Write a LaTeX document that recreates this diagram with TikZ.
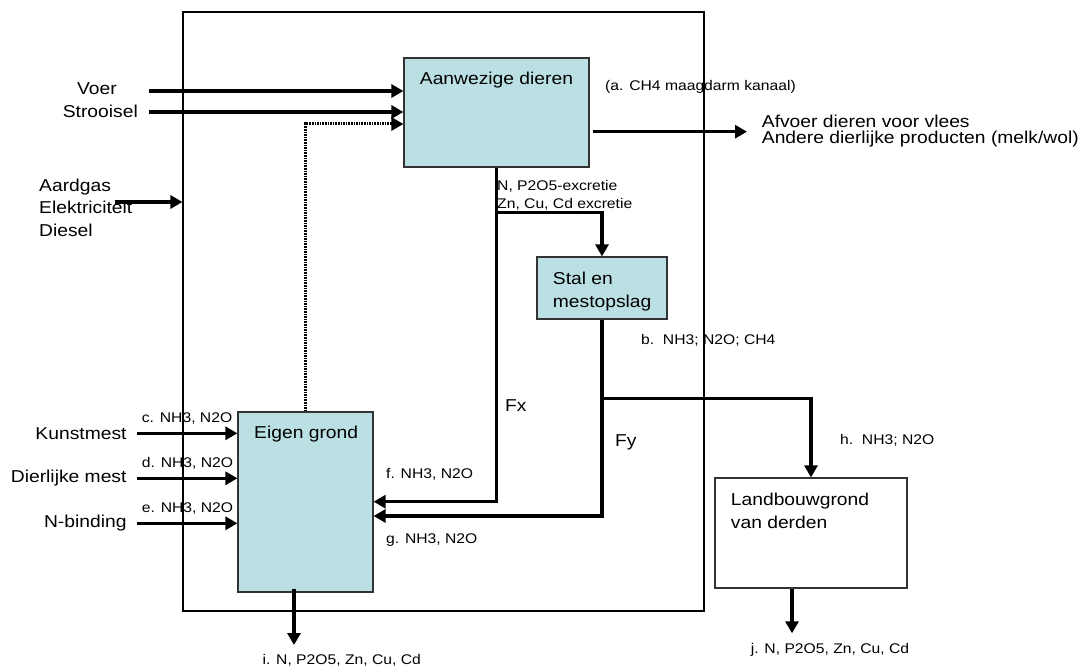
\documentclass[tikz,border=0pt]{standalone}
\usepackage{fontspec}
\setmainfont[FakeStretch=1.12]{Liberation Sans}
\usetikzlibrary{arrows.meta}
\definecolor{boxblue}{RGB}{187,224,227}
\newcommand{\bigtxt}{\fontsize{17.2}{22.5}\selectfont}
\newcommand{\smtxt}{\fontsize{14}{17.7}\selectfont}
\begin{document}
\begin{tikzpicture}[x=1pt, y=-1pt,
  box/.style={draw=black!80, line width=1.2pt, fill=boxblue, inner sep=0pt},
  thk/.style={line width=3.2pt},
  flow/.style={thk, -{Triangle[length=12pt,width=13pt]}},
  dotln/.style={line width=3pt, dash pattern=on 1.6pt off 1pt, -{Triangle[length=12pt,width=13pt]}},
  txt/.style={font=\bigtxt, inner sep=0pt},
  lbl/.style={font=\smtxt, inner sep=0pt}]
\useasboundingbox (0,0) rectangle (1084,668);
% system boundary and the four boxes
\node[draw, line width=1.1pt, minimum width=521, minimum height=599, inner sep=0pt] (sys) at (443.5,311.5) {};
\node[box, minimum width=185, minimum height=109] (dier) at (496.5,112.5) {};
\node[box, minimum width=130, minimum height=62] (stal) at (602,288) {};
\node[box, minimum width=135, minimum height=180] (eig) at (305.5,502) {};
\node[box, fill=white, minimum width=192, minimum height=110] (land) at (811,533) {};
\node[txt, anchor=base] (dier-t) at (496.5,85) {Aanwezige dieren};
\node[txt, anchor=base west] (stal-t1) at (552.7,284) {Stal en};
\node[txt, anchor=base west] (stal-t2) at (552.7,307.3) {mestopslag};
\node[txt, anchor=base west] (eig-t) at (254,438) {Eigen grond};
\node[txt, anchor=base west] (land-t1) at (730.7,505) {Landbouwgrond};
\node[txt, anchor=base west] (land-t2) at (730.7,528.3) {van derden};
% inputs to the animals
\node[txt, anchor=base] (voer) at (97,95) {Voer};
\node[txt, anchor=base east] (stro) at (138,117.3) {Strooisel};
\coordinate (voer-s) at (149,91);
\coordinate (stro-s) at (149,112);
\draw[flow] (voer-s) -- (dier.west |- voer-s);
\draw[flow] (stro-s) -- (dier.west |- stro-s);
\coordinate (retour) at ([yshift=-11.5pt]dier.west);
\draw[dotln] (eig.north) |- (retour);
% energy
\foreach \e [count=\k] in {Aardgas,Elektriciteit,Diesel}
    \node[txt, anchor=base west] (en\k) at (39,{191.7+22.3*(\k-1)}) {\e};
\coordinate (en-s) at (115,202);
\draw[flow] (en-s) -- (sys.west |- en-s);
% products
\coordinate (afv-s) at ([xshift=3pt,yshift=-19.2pt]dier.east);
\coordinate (afv-e) at (747,131.7);
\draw[flow] (afv-s) -- (afv-e);
\node[txt, anchor=base west] (afv1) at (761.7,127.3) {Afvoer dieren voor vlees};
\node[txt, anchor=base west] (afv2) at (761.7,144) {Andere dierlijke producten (melk/wol)};
\node[lbl, anchor=west] (a) at (605,87) {(a. CH4 maagdarm kanaal)};
% excretion
\coordinate (split1) at ([yshift=-44.7pt]dier.south);
\coordinate (split2) at ([yshift=-79pt]stal.south);
\draw[flow] (dier.south) |- ([yshift=0.3pt]eig.east);
\draw[flow] (split1) -| (stal.north);
\draw[flow] (stal.south) |- ([yshift=-14pt]eig.east);
\draw[flow] (split2) -| (land.north);
\node[lbl, anchor=base west] (exc1) at (497,190.7) {N, P2O5-excretie};
\node[lbl, anchor=base west] (exc2) at (497,208.3) {Zn, Cu, Cd excretie};
\node[lbl, anchor=west] (b) at (641,340) {b.\ \ NH3; N2O; CH4};
\node[lbl, anchor=west] (h) at (840,440) {h.\ \ NH3; N2O};
\node[txt, anchor=west] (fx) at (505,405.7) {Fx};
\node[txt, anchor=west] (fy) at (615,442.7) {Fy};
\node[lbl, anchor=west] (f) at (386,474) {f. NH3, N2O};
\node[lbl, anchor=west] (g) at (386,540) {g. NH3, N2O};
% inputs to own land
\def\inputs{{"Kunstmest","Dierlijke mest","N-binding"}}
\def\tags{{"c","d","e"}}
\foreach \i in {0,1,2} {
    \pgfmathsetmacro{\yy}{433.3+45*\i}
    \pgfmathsetmacro{\ty}{\yy-14.5}
    \pgfmathparse{\inputs[\i]}\let\inp\pgfmathresult
    \pgfmathparse{\tags[\i]}\let\tg\pgfmathresult
    \coordinate (in\i) at (137,\yy);
    \node[txt, anchor=east] (inp\i) at (126.7,\yy) {\inp};
    \node[lbl, anchor=west] (tag\i) at (141.7,\ty) {\tg. NH3, N2O};
    \draw[flow] (in\i) -- (eig.west |- in\i);}
% losses
\coordinate (i-e) at (294,645);
\coordinate (j-e) at (792,633.3);
\draw[flow] ([xshift=-11.5pt,yshift=4pt]eig.south) -- (i-e);
\draw[flow] ([xshift=-19pt]land.south) -- (j-e);
\node[lbl] (i) at (341.7,660.7) {i. N, P2O5, Zn, Cu, Cd};
\node[lbl] (j) at (830,650) {j. N, P2O5, Zn, Cu, Cd};
\end{tikzpicture}
\end{document}
